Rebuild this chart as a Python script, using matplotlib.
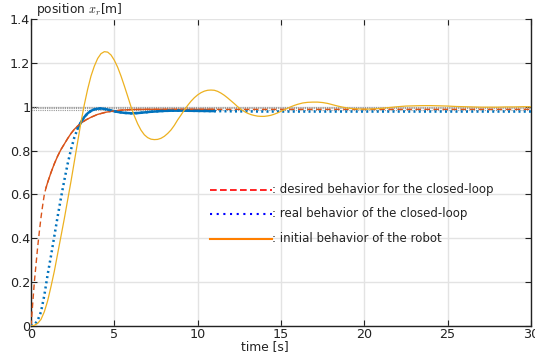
import matplotlib
matplotlib.use("Agg")
import matplotlib.pyplot as plt
from matplotlib.lines import Line2D

plt.rcParams['mathtext.fontset'] = 'cm'

# initial behavior of the robot (yellow)
t_init = [0, 0.2, 0.4, 0.6, 0.8, 1.0, 1.2, 1.4, 1.6, 1.8, 2.0, 2.2, 2.4, 2.6, 2.8, 3.0, 3.2,
          3.4, 3.6, 3.8, 4.0, 4.2, 4.4, 4.6, 4.8, 5.0, 5.2, 5.4, 5.6, 5.8, 6.0, 6.2, 6.4, 6.6,
          6.8, 7.0, 7.2, 7.4, 7.6, 7.8, 8.0, 8.2, 8.4, 8.6, 8.8, 9.0, 9.2, 9.4, 9.6, 9.8, 10.0,
          10.2, 10.4, 10.6, 10.8, 11.0, 11.2, 11.4, 11.6, 11.8, 12.0, 12.2, 12.4, 12.6, 12.8,
          13.0, 13.2, 13.4, 13.6, 13.8, 14.0, 14.2, 14.4, 14.6, 14.8, 15.0, 15.2, 15.4, 15.6,
          15.8, 16.0, 16.3, 16.6, 16.9, 17.2, 17.5, 17.8, 18.1, 18.4, 18.7, 19.0, 19.3, 19.6,
          19.9, 20.2, 20.5, 20.8, 21.2, 21.6, 22.0, 22.5, 23.0, 23.5, 24.0, 24.5, 25.0, 25.5,
          26.0, 26.5, 27.0, 27.5, 28.0, 28.5, 29.0, 29.5, 30.0]
y_init = [0, 0.003, 0.012, 0.03, 0.065, 0.115, 0.18, 0.25, 0.33, 0.41, 0.49, 0.575, 0.66,
          0.75, 0.84, 0.93, 1.01, 1.08, 1.14, 1.185, 1.22, 1.242, 1.251, 1.249, 1.236, 1.212,
          1.18, 1.14, 1.095, 1.048, 1.0, 0.958, 0.922, 0.893, 0.872, 0.859, 0.852, 0.85, 0.851,
          0.856, 0.865, 0.878, 0.894, 0.915, 0.94, 0.962, 0.985, 1.006, 1.025, 1.041, 1.054,
          1.064, 1.071, 1.075, 1.076, 1.075, 1.07, 1.062, 1.052, 1.04, 1.027, 1.014, 1.0,
          0.988, 0.978, 0.97, 0.964, 0.96, 0.957, 0.956, 0.956, 0.958, 0.961, 0.966, 0.972,
          0.979, 0.986, 0.993, 1.0, 1.006, 1.011, 1.017, 1.02, 1.021, 1.021, 1.019, 1.015,
          1.009, 1.003, 0.998, 0.994, 0.991, 0.99, 0.989, 0.989, 0.99, 0.991, 0.994, 0.997,
          1.0, 1.003, 1.004, 1.005, 1.005, 1.004, 1.003, 1.001, 1.0, 0.999, 0.998, 0.998,
          0.998, 0.999, 0.999, 1.0, 1.0]

# real behavior of the closed loop (blue)
t_real = [0, 0.2, 0.4, 0.6, 0.8, 1.0, 1.2, 1.4, 1.6, 1.8, 2.0, 2.2, 2.4, 2.6, 2.8, 3.0, 3.2,
          3.4, 3.6, 3.8, 4.0, 4.2, 4.4, 4.6, 4.8, 5.0, 5.3, 5.6, 6.0, 6.4, 6.8, 7.2, 7.6, 8.0,
          8.5, 9.0, 10.0, 11.0, 12.0, 14.0, 20.0, 25.0, 30.0]
y_real = [0, 0.006, 0.025, 0.065, 0.14, 0.235, 0.32, 0.41, 0.5, 0.585, 0.665, 0.74, 0.805,
          0.86, 0.9, 0.93, 0.953, 0.97, 0.981, 0.988, 0.991, 0.992, 0.99, 0.987, 0.983, 0.979,
          0.975, 0.972, 0.970, 0.971, 0.974, 0.977, 0.979, 0.981, 0.982, 0.982, 0.981, 0.98,
          0.979, 0.978, 0.978, 0.978, 0.978]

# desired behavior for the closed loop (red)
t_des = [0, 0.1, 0.2, 0.3, 0.4, 0.5, 0.6, 0.7, 0.8, 0.9, 1.0, 1.2, 1.4, 1.6, 1.8, 2.0, 2.2,
         2.4, 2.6, 2.8, 3.0, 3.3, 3.6, 4.0, 4.5, 5.0, 5.5, 6.0, 7.0, 10.0, 11.0, 15.0, 20.0,
         25.0, 30.0]
y_des = [0, 0.1, 0.2, 0.28, 0.36, 0.43, 0.495, 0.55, 0.6, 0.63, 0.655, 0.7, 0.74, 0.775,
         0.805, 0.83, 0.855, 0.878, 0.897, 0.912, 0.925, 0.94, 0.952, 0.965, 0.975, 0.981,
         0.985, 0.987, 0.988, 0.988, 0.988, 0.988, 0.988, 0.988, 0.988]

ref_levels = [1.0, 0.993, 0.986]

solid_end = 11.0
red_solid_start = 0.85
blue_solid_start = 2.8

legend_labels = [": desired behavior for the closed-loop",
                 ": real behavior of the closed-loop",
                 ": initial behavior of the robot"]

xticks = [0, 5, 10, 15, 20, 25, 30]
yticks = [0, 0.2, 0.4, 0.6, 0.8, 1, 1.2, 1.4]
ytick_labels = ["0", "0.2", "0.4", "0.6", "0.8", "1", "1.2", "1.4"]

C_BLUE = "#0072BD"
C_RED = "#D95319"
C_YEL = "#EDB120"

fig = plt.figure(figsize=(5.35, 3.59), dpi=100)
ax = fig.add_axes([31/535, 1-326/359, 500/535, 307/359])

ax.grid(True, color="#e3e3e3", lw=1.0)
ax.set_axisbelow(True)

for lv in ref_levels:
    ax.axhline(lv, color="#999999", ls=(0, (1, 1)), lw=0.8, zorder=2)

def seg(t, y, a, b):
    tt, yy = [], []
    for ti, yi in zip(t, y):
        if a <= ti <= b:
            tt.append(ti); yy.append(yi)
    return tt, yy

# solid parts
tr, yr = seg(t_des, y_des, red_solid_start, solid_end)
ax.plot(tr, yr, color=C_RED, lw=1.0, zorder=3)
tb, yb = seg(t_real, y_real, blue_solid_start, solid_end)
ax.plot(tb, yb, color=C_BLUE, lw=1.8, zorder=3)

# dashed / dotted full curves
ax.plot(t_des, y_des, color=C_RED, lw=1.0, ls=(0, (4, 2.5)), zorder=4)
ax.plot(t_real, y_real, color=C_BLUE, lw=1.8, ls=(0, (0.8, 1.3)), zorder=4)
ax.plot(t_init, y_init, color=C_YEL, lw=0.9, zorder=5)

ax.set_xlim(0, 30)
ax.set_ylim(0, 1.4)
ax.set_xticks(xticks)
ax.set_xticklabels([str(v) for v in xticks])
ax.set_yticks(yticks)
ax.set_yticklabels(ytick_labels)
ax.tick_params(direction="in", length=4, width=0.8, labelsize=9.2,
               top=True, right=True, colors="#222222")
ax.tick_params(axis="x", pad=1.5)
ax.tick_params(axis="y", pad=0.5)
ax.spines["top"].set_visible(False)
for s in ["left", "bottom", "right"]:
    ax.spines[s].set_linewidth(1.0)
    ax.spines[s].set_color("#222222")

# manual legend
leg_styles = [dict(color="#FF0000", ls=(0, (4, 2)), lw=1.2),
              dict(color="#0000FF", ls=(0, (1, 2.2)), lw=1.5),
              dict(color="#FF7F00", ls="-", lw=1.5)]
leg_y = [190, 214, 239]
for yy, st, lab in zip(leg_y, leg_styles, legend_labels):
    yf = 1 - yy/359
    fig.add_artist(Line2D([210/535, 272/535], [yf, yf], transform=fig.transFigure, **st))
    fig.text(272/535, yf, lab, fontsize=8.5, va="center", ha="left", color="#222222")

fig.text(36/535, 1-10/359, "position $x_r$[m]", fontsize=8.8, va="center", ha="left",
         color="#222222")
fig.text(265/535, 1-347/359, "time [s]", fontsize=8.8, va="center", ha="center",
         color="#222222")

fig.savefig("out.png", dpi=100)
